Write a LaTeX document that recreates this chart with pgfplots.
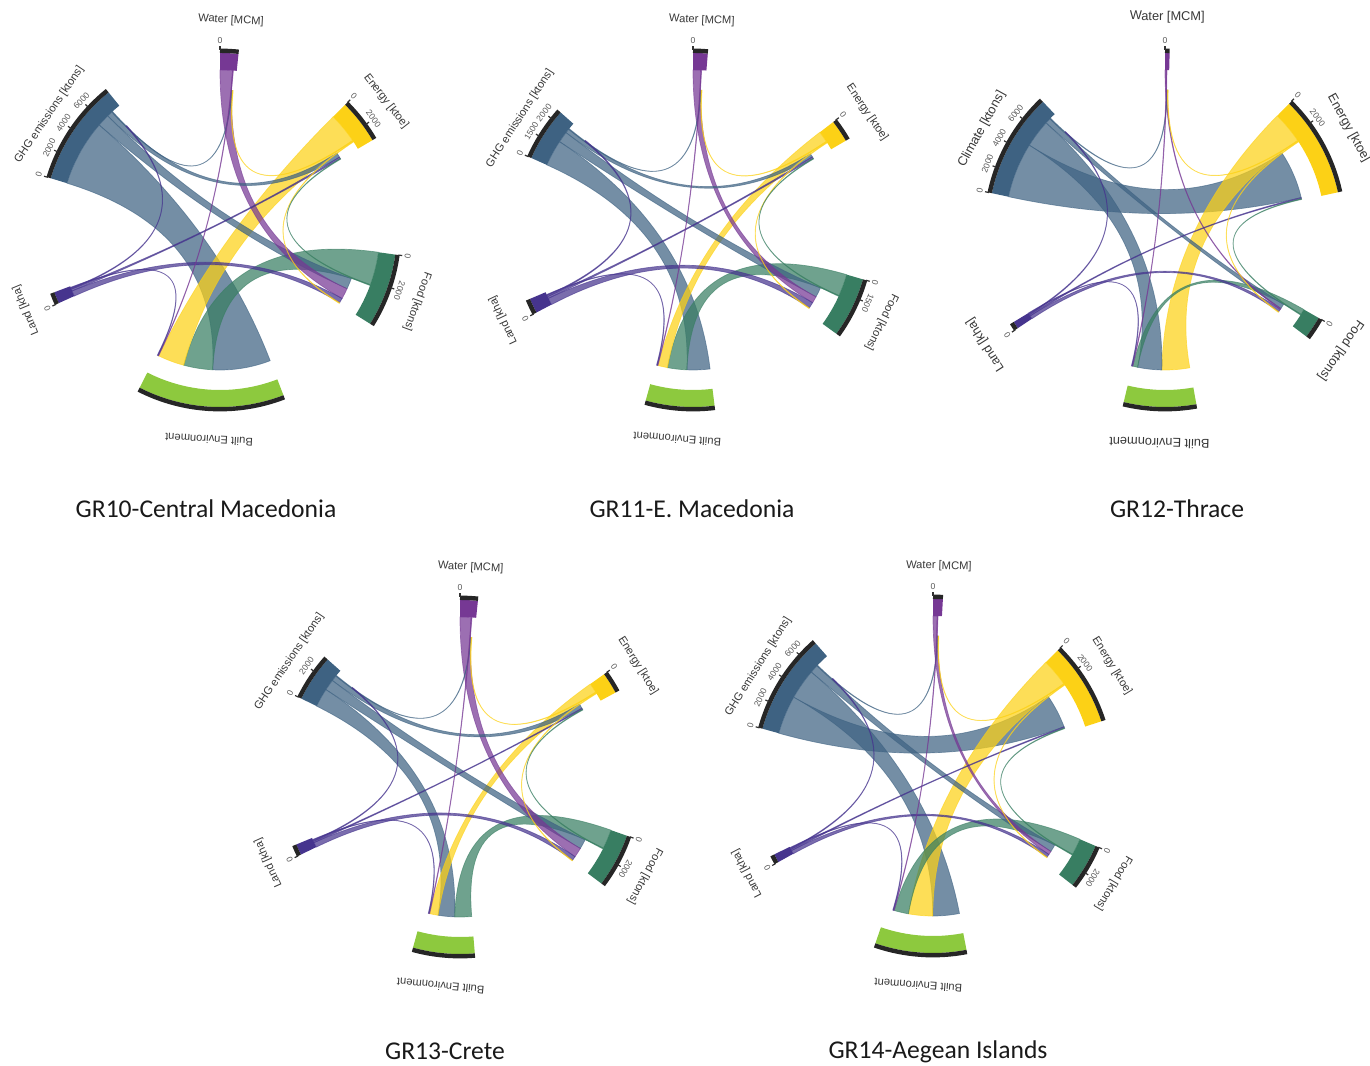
\documentclass[border=0pt]{standalone}
\usepackage{pgfplots}
\pgfplotsset{compat=1.18}
\usepackage{fontspec}
\setmainfont{Liberation Sans}
\newfontfamily\capfont{Carlito}
\definecolor{cG}{RGB}{62,98,130}
\definecolor{cW}{RGB}{118,56,148}
\definecolor{cE}{RGB}{252,209,22}
\definecolor{cF}{RGB}{56,126,98}
\definecolor{cB}{RGB}{141,201,62}
\definecolor{cL}{RGB}{70,52,142}
\newcommand\labfont{\fontsize{5.6}{6}\selectfont}
\newcommand\tkfont{\fontsize{4.3}{5}\selectfont}
\newcommand\Rs{160}
\newcommand\Rt{140}
\newcommand\Rsc{53.33}
\newcommand\Rtc{46.67}
% sector: start angle, end angle (clockwise), colour
\newcommand\sect[3]{%
  \fill[#3] (#1:160) arc[start angle=#1,end angle=#2,radius=160] -- (#2:177)
     arc[start angle=#2,end angle=#1,radius=177] -- cycle;
  \draw[line width=2.2pt, black!85] (#1:179.2) arc[start angle=#1,end angle=#2,radius=179.2];}
% ribbon: source a1>a2, target b1>b2, colour of source
\newcommand\rib[5]{%
  \path[fill=#5, fill opacity=0.72, draw=#5, draw opacity=0.6, line width=0.35pt]
   (#1:\Rs) arc[start angle=#1, end angle=#2, radius=\Rs]
   .. controls (#2:\Rsc) and (#3:\Rtc) .. (#3:\Rt)
   arc[start angle=#3, end angle=#4, radius=\Rt]
   .. controls (#4:\Rtc) and (#1:\Rsc) .. (#1:\Rs) -- cycle;}
\newcommand\tk[2]{%
  \draw[line width=0.6pt, black!80] (#1:180) -- (#1:184);
  \node[font=\tkfont, text=black!65, rotate={#1-90}, inner sep=0pt] at (#1:189.5) {#2};}
\newcommand\lab[3][210]{%
  \node[font=\labfont, text=black!78, rotate={#2-90}, inner sep=0pt] at (#2:#1) {#3};}
\newcommand\capt[3]{\node[font=\capfont\fontsize{12.8}{14}\selectfont, text=black!90, anchor=base] at (axis cs:#1,#2) {#3};}
\begin{document}
\begin{tikzpicture}
\begin{axis}[scale only axis, width=685pt, height=532.5pt,
  xmin=0, xmax=1370, ymin=0, ymax=1065, hide axis, enlargelimits=false, clip=false]
\addplot[draw=none, forget plot] coordinates {(0,0) (1370,1065)};
\pgfplotsextra{%
% ---------------- GR10 ----------------
\begin{scope}[shift={(axis cs:220,835)}, x={(axis direction cs:1,0)}, y={(axis direction cs:0,1)}]
\sect{90}{84}{cW}
\sect{45}{30.5}{cE}
\sect{-8}{-32}{cF}
\sect{-69}{-117}{cB}
\sect{204.4}{200.6}{cL}
\sect{163}{129}{cG}
\rib{163}{139}{-69}{-93}{cG}
\rib{-8}{-20}{-93}{-105}{cF}
\rib{45}{34}{-105}{-116}{cE}
\rib{139}{134.5}{-20.3}{-24.8}{cG}
\rib{90}{85.5}{-24.8}{-29.3}{cW}
\rib{204.4}{202.4}{-29.3}{-31.3}{cL}
\rib{134.5}{132.5}{33.4}{31.4}{cG}
\rib{202.4}{201.7}{31.4}{30.7}{cL}
\rib{132.5}{132.2}{85.2}{84.9}{cG}
\rib{85.5}{85.2}{-116}{-116.3}{cW}
\rib{34}{33.7}{84.9}{84.6}{cE}
\rib{33.7}{33.4}{-31.3}{-31.6}{cE}
\rib{-20}{-20.3}{30.7}{30.4}{cF}
\rib{201.7}{201.3}{132.2}{131.8}{cL}
\rib{201.3}{201.0}{-116.3}{-116.6}{cL}
\tk{90}{0}
\tk{45}{0}\tk{35.9}{2000}
\tk{-8}{0}\tk{-18.7}{2000}
\tk{163}{0}\tk{154.3}{2000}\tk{145.7}{4000}\tk{137}{6000}
\tk{204.4}{0}
\lab{87}{Water [MCM]}
\lab{37.75}{Energy [ktoe]}
\lab{-20}{Food [ktons]}
\lab{-93}{Built Environment}
\lab{202.5}{Land [kha]}
\lab[206]{146}{GHG emissions [ktons]}
\end{scope}
% ---------------- GR11 ----------------
\begin{scope}[shift={(axis cs:693,835)}, x={(axis direction cs:1,0)}, y={(axis direction cs:0,1)}]
\sect{90}{85.2}{cW}
\sect{37.6}{30.3}{cE}
\sect{-16.2}{-35.9}{cF}
\sect{-83}{-105.5}{cB}
\sect{207.8}{202.9}{cL}
\sect{156}{138.4}{cG}
\rib{156}{146.5}{-83}{-92.5}{cG}
\rib{-16.2}{-24.2}{-92.5}{-100.5}{cF}
\rib{37.6}{33.6}{-100.5}{-104.5}{cE}
\rib{146.5}{142.5}{-24.5}{-28.5}{cG}
\rib{90}{87.2}{-28.5}{-31.3}{cW}
\rib{207.8}{205.3}{-31.3}{-33.8}{cL}
\rib{142.5}{141}{33.0}{31.5}{cG}
\rib{205.3}{204.6}{31.5}{30.8}{cL}
\rib{141}{140.7}{86.9}{86.6}{cG}
\rib{87.2}{86.9}{-104.5}{-104.8}{cW}
\rib{33.6}{33.3}{86.6}{86.3}{cE}
\rib{33.3}{33.0}{-33.8}{-34.1}{cE}
\rib{-24.2}{-24.5}{30.8}{30.5}{cF}
\rib{204.6}{204.1}{140.7}{140.2}{cL}
\rib{204.1}{203.8}{-104.8}{-105.1}{cL}
\tk{90}{0}
\tk{37.6}{0}
\tk{-16.2}{0}\tk{-22.7}{1500}
\tk{156}{0}\tk{148.6}{1500}\tk{141.8}{2000}
\tk{207.8}{0}
\lab{87.6}{Water [MCM]}
\lab{34}{Energy [ktoe]}
\lab{-26}{Food [ktons]}
\lab{-94.3}{Built Environment}
\lab{205.4}{Land [kha]}
\lab[206]{147.2}{GHG emissions [ktons]}
\end{scope}
% ---------------- GR12 ----------------
\begin{scope}[shift={(axis cs:1165,835)}, x={(axis direction cs:1,0)}, y={(axis direction cs:0,1)}]
\sect{90}{88.5}{cW}
\sect{45.5}{12.3}{cE}
\sect{-29.8}{-37}{cF}
\sect{-79.8}{-103.5}{cB}
\sect{213.7}{211.3}{cL}
\sect{168}{133.6}{cG}
\rib{168}{148}{33.4}{13.4}{cG}
\rib{45.5}{34}{-79.8}{-91.3}{cE}
\rib{148}{138}{-91.3}{-101.3}{cG}
\rib{-29.8}{-31.8}{-101.3}{-103.3}{cF}
\rib{138}{136}{-32.1}{-34.1}{cG}
\rib{213.7}{212.5}{-34.5}{-35.7}{cL}
\rib{90}{89.6}{-34.1}{-34.5}{cW}
\rib{212.5}{212.0}{13.4}{12.9}{cL}
\rib{136}{135.7}{89.3}{89.0}{cG}
\rib{89.6}{89.3}{-103.3}{-103.6}{cW}
\rib{34}{33.7}{89.0}{88.7}{cE}
\rib{33.7}{33.4}{-35.7}{-36.0}{cE}
\rib{-31.8}{-32.1}{12.9}{12.6}{cF}
\rib{212.0}{211.6}{135.7}{135.3}{cL}
\rib{211.6}{211.3}{-103.6}{-103.9}{cL}
\tk{90}{0}
\tk{45.5}{0}\tk{36.4}{2000}
\tk{-29.8}{0}
\tk{168}{0}\tk{159.6}{2000}\tk{151}{4000}\tk{142}{6000}
\tk{213.7}{0}
\begin{scope}[font=\fontsize{6.4}{7}\selectfont]
\node[text=black!78, rotate={89.4-90}, inner sep=0pt] at (89.4:213) {Water [MCM]};
\node[text=black!78, rotate={29-90}, inner sep=0pt] at (29:210) {Energy [ktoe]};
\node[text=black!78, rotate={-34.4-90}, inner sep=0pt] at (-34.4:213) {Food [ktons]};
\node[text=black!78, rotate={-91.5-90}, inner sep=0pt] at (-91.5:213) {Built Environment};
\node[text=black!78, rotate={212.6-90}, inner sep=0pt] at (212.6:213) {Land [kha]};
\node[text=black!78, rotate={151.2-90}, inner sep=0pt] at (151.2:209) {Climate [ktons]};
\end{scope}
\end{scope}
% ---------------- GR13 ----------------
\begin{scope}[shift={(axis cs:460,288)}, x={(axis direction cs:1,0)}, y={(axis direction cs:0,1)}]
\sect{90}{84.2}{cW}
\sect{35.5}{28.5}{cE}
\sect{-19.4}{-37}{cF}
\sect{-85.2}{-105.4}{cB}
\sect{206}{202.4}{cL}
\sect{153.7}{138.4}{cG}
\rib{153.7}{146.9}{-92.2}{-99}{cG}
\rib{-19.4}{-26.4}{-85.2}{-92.2}{cF}
\rib{35.5}{32}{-99}{-102.5}{cE}
\rib{146.9}{142.9}{-26.7}{-30.7}{cG}
\rib{90}{86}{-30.7}{-34.7}{cW}
\rib{206}{204.2}{-34.7}{-36.5}{cL}
\rib{142.9}{140.9}{31.4}{29.4}{cG}
\rib{204.2}{203.7}{29.4}{28.9}{cL}
\rib{140.9}{140.6}{85.7}{85.4}{cG}
\rib{86}{85.7}{-102.5}{-102.8}{cW}
\rib{32}{31.7}{85.4}{85.1}{cE}
\rib{31.7}{31.4}{-36.5}{-36.8}{cE}
\rib{-26.4}{-26.7}{28.9}{28.6}{cF}
\rib{203.7}{203.3}{140.6}{140.2}{cL}
\rib{203.3}{203.0}{-102.8}{-103.1}{cL}
\tk{90}{0}
\tk{35.5}{0}
\tk{-19.4}{0}\tk{-29.1}{2000}
\tk{153.7}{0}\tk{144.1}{2000}
\tk{206}{0}
\lab{87.1}{Water [MCM]}
\lab{32}{Energy [ktoe]}
\lab{-28.2}{Food [ktons]}
\lab{-95.3}{Built Environment}
\lab{204.2}{Land [kha]}
\lab[206]{146}{GHG emissions [ktons]}
\end{scope}
% ---------------- GR14 ----------------
\begin{scope}[shift={(axis cs:933,289)}, x={(axis direction cs:1,0)}, y={(axis direction cs:0,1)}]
\sect{90}{86.8}{cW}
\sect{45.2}{18}{cE}
\sect{-23.3}{-38}{cF}
\sect{-79.1}{-109}{cB}
\sect{209.1}{206.3}{cL}
\sect{164.5}{131.5}{cG}
\rib{164.5}{150.5}{34.6}{20.6}{cG}
\rib{150.5}{139.5}{-79.1}{-90.1}{cG}
\rib{45.2}{35.2}{-90.1}{-100.1}{cE}
\rib{-23.3}{-29.3}{-100.1}{-106.1}{cF}
\rib{139.5}{136.5}{-29.6}{-32.6}{cG}
\rib{90}{88.5}{-32.6}{-34.1}{cW}
\rib{209.1}{207.8}{-34.1}{-35.4}{cL}
\rib{207.8}{207.3}{20.6}{20.1}{cL}
\rib{136.5}{136.2}{88.2}{87.9}{cG}
\rib{88.5}{88.2}{-106.1}{-106.4}{cW}
\rib{35.2}{34.9}{87.9}{87.6}{cE}
\rib{34.9}{34.6}{-35.4}{-35.7}{cE}
\rib{-29.3}{-29.6}{20.1}{19.8}{cF}
\rib{207.3}{206.9}{136.2}{135.8}{cL}
\rib{206.9}{206.6}{-106.4}{-106.7}{cL}
\tk{90}{0}
\tk{45.2}{0}\tk{36.6}{2000}
\tk{-23.3}{0}\tk{-32.5}{2000}
\tk{164.5}{0}\tk{155.6}{2000}\tk{146.7}{4000}\tk{137.8}{6000}
\tk{209.1}{0}
\lab{88.4}{Water [MCM]}
\lab{31.6}{Energy [ktoe]}
\lab{-30.7}{Food [ktons]}
\lab{-94}{Built Environment}
\lab{207.7}{Land [kha]}
\lab[206]{148}{GHG emissions [ktons]}
\end{scope}
% ---------------- captions ----------------
\capt{206}{547}{GR10-Central Macedonia}
\capt{692}{547}{GR11-E. Macedonia}
\capt{1177}{547}{GR12-Thrace}
\capt{445}{5}{GR13-Crete}
\capt{938}{6}{GR14-Aegean Islands}
}
\end{axis}
\pgfresetboundingbox
\useasboundingbox (current axis.south west) rectangle (current axis.north east);
\end{tikzpicture}
\end{document}
